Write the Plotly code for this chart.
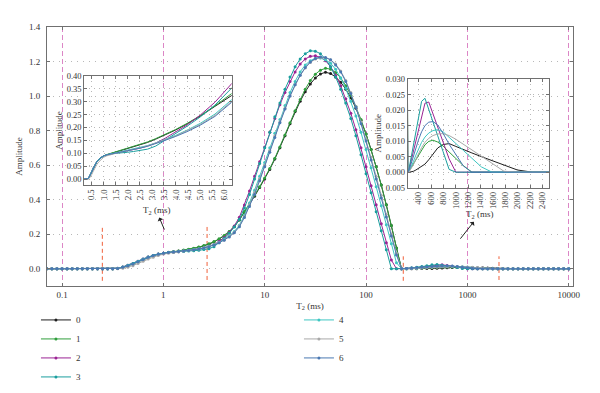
import math
import plotly.graph_objects as go

# ---------------- data ----------------
T2_ms = [0.07079, 0.07943, 0.08913, 0.1, 0.1122, 0.1259, 0.1413, 0.1585, 0.1778, 0.1995,
         0.2239, 0.2512, 0.2818, 0.3162, 0.3548, 0.3981, 0.4467, 0.5012, 0.5623, 0.631,
         0.7079, 0.7943, 0.8913, 1.0, 1.122, 1.259, 1.413, 1.585, 1.778, 1.995,
         2.239, 2.512, 2.818, 3.162, 3.548, 3.981, 4.467, 5.012, 5.623, 6.31,
         7.079, 7.943, 8.913, 10.0, 11.22, 12.59, 14.13, 15.85, 17.78, 19.95,
         22.39, 25.12, 28.18, 31.62, 35.48, 39.81, 44.67, 50.12, 56.23, 63.1,
         70.79, 79.43, 89.13, 100.0, 112.2, 125.9, 141.3, 158.5, 177.8, 199.5,
         223.9, 251.2, 281.8, 316.2, 354.8, 398.1, 446.7, 501.2, 562.3, 631.0,
         707.9, 794.3, 891.3, 1000.0, 1122, 1259, 1413, 1585, 1778, 1995,
         2239, 2512, 2818, 3162, 3548, 3981, 4467, 5012, 5623, 6310,
         7079, 7943, 8913, 10000]

amp_0 = [0, 0, 0, 0, 0, 0, 0, 0, 0, 0, 0, 0, 0, 0,
         0.002, 0.008, 0.017, 0.028, 0.041, 0.054, 0.066, 0.076, 0.084, 0.09,
         0.094, 0.098, 0.102, 0.106, 0.111, 0.117, 0.124, 0.132, 0.142, 0.155, 0.171, 0.19, 0.214, 0.244, 0.282, 0.327,
         0.37, 0.42, 0.47, 0.52, 0.575, 0.635, 0.70, 0.77, 0.84, 0.91, 0.97, 1.025, 1.07, 1.105, 1.128, 1.138,
         1.13, 1.11, 1.08, 1.04, 0.99, 0.93, 0.86, 0.78, 0.69, 0.59, 0.485, 0.37, 0.25, 0.12, 0,
         0, 0.0001, 0.0003, 0.0007, 0.0012, 0.0018, 0.0026, 0.004, 0.0058, 0.0078, 0.0089, 0.0092, 0.0083,
         0.0072, 0.0062, 0.005, 0.0038, 0.0023, 0.0007, 0, 0,
         0, 0, 0, 0, 0, 0, 0, 0, 0, 0, 0, 0]

amp_1 = [0, 0, 0, 0, 0, 0, 0, 0, 0, 0, 0, 0, 0, 0,
         0.002, 0.008, 0.017, 0.028, 0.041, 0.054, 0.066, 0.076, 0.084, 0.09,
         0.095, 0.099, 0.103, 0.108, 0.113, 0.119, 0.126, 0.134, 0.144, 0.157, 0.173, 0.192, 0.216, 0.246, 0.284, 0.331,
         0.375, 0.425, 0.475, 0.525, 0.58, 0.64, 0.705, 0.775, 0.845, 0.915, 0.98, 1.04, 1.09, 1.127, 1.15, 1.161,
         1.156, 1.137, 1.105, 1.06, 1.005, 0.94, 0.865, 0.78, 0.69, 0.59, 0.485, 0.37, 0.25, 0.12, 0,
         0.0006, 0.0016, 0.0028, 0.0042, 0.0056, 0.0073, 0.0088, 0.0099, 0.0103, 0.0097, 0.0084, 0.0065, 0.0044,
         0.0021, 0, 0, 0, 0, 0, 0, 0,
         0, 0, 0, 0, 0, 0, 0, 0, 0, 0, 0, 0]

amp_2 = [0, 0, 0, 0, 0, 0, 0, 0, 0, 0, 0, 0, 0, 0,
         0.003, 0.01, 0.02, 0.031, 0.044, 0.057, 0.068, 0.077, 0.085, 0.09,
         0.094, 0.097, 0.099, 0.102, 0.105, 0.109, 0.114, 0.12, 0.128, 0.14, 0.158, 0.181, 0.21, 0.248, 0.298, 0.369,
         0.45, 0.535, 0.62, 0.705, 0.79, 0.87, 0.95, 1.02, 1.085, 1.14, 1.185, 1.215, 1.23, 1.233, 1.225, 1.205,
         1.17, 1.12, 1.06, 0.985, 0.9, 0.805, 0.70, 0.59, 0.48, 0.37, 0.26, 0.15, 0.05, 0, 0,
         0.0015, 0.004, 0.0067, 0.0098, 0.0133, 0.0175, 0.0222, 0.0226, 0.0188, 0.0145, 0.0097, 0.0043, 0,
         0, 0, 0, 0, 0, 0, 0, 0,
         0, 0, 0, 0, 0, 0, 0, 0, 0, 0, 0, 0]

amp_3 = [0, 0, 0, 0, 0, 0, 0, 0, 0, 0, 0, 0, 0, 0,
         0.003, 0.01, 0.02, 0.031, 0.044, 0.057, 0.068, 0.077, 0.085, 0.09,
         0.094, 0.097, 0.099, 0.1, 0.102, 0.104, 0.107, 0.111, 0.116, 0.128, 0.15, 0.175, 0.205, 0.241, 0.287, 0.352,
         0.43, 0.52, 0.61, 0.70, 0.79, 0.88, 0.96, 1.04, 1.11, 1.17, 1.215, 1.245, 1.262, 1.26, 1.245, 1.215,
         1.17, 1.11, 1.04, 0.96, 0.87, 0.77, 0.66, 0.55, 0.44, 0.33, 0.22, 0.11, 0, 0, 0,
         0.0019, 0.005, 0.0085, 0.0124, 0.0167, 0.0228, 0.0238, 0.0204, 0.0163, 0.0117, 0.0066, 0.0009, 0,
         0, 0, 0, 0, 0, 0, 0, 0,
         0, 0, 0, 0, 0, 0, 0, 0, 0, 0, 0, 0]

amp_4 = [0, 0, 0, 0, 0, 0, 0, 0, 0, 0, 0, 0, 0, 0,
         0.002, 0.008, 0.017, 0.028, 0.041, 0.054, 0.066, 0.076, 0.084, 0.09,
         0.094, 0.097, 0.1, 0.103, 0.107, 0.111, 0.116, 0.122, 0.13, 0.14, 0.153, 0.169, 0.19, 0.216, 0.252, 0.31,
         0.38, 0.455, 0.535, 0.615, 0.70, 0.785, 0.865, 0.945, 1.02, 1.085, 1.14, 1.18, 1.205, 1.218, 1.22, 1.21,
         1.19, 1.155, 1.105, 1.045, 0.97, 0.885, 0.79, 0.69, 0.585, 0.475, 0.365, 0.255, 0.145, 0.035, 0,
         0.0005, 0.0018, 0.0035, 0.0055, 0.0076, 0.0096, 0.0113, 0.0126, 0.0134, 0.0137, 0.013, 0.0113, 0.0093,
         0.007, 0.0045, 0.0017, 0, 0, 0, 0, 0,
         0, 0, 0, 0, 0, 0, 0, 0, 0, 0, 0, 0]

amp_5 = [0, 0, 0, 0, 0, 0, 0, 0, 0, 0, 0, 0, 0, 0,
         0.0, 0.003, 0.009, 0.018, 0.03, 0.043, 0.056, 0.067, 0.077, 0.085,
         0.09, 0.094, 0.098, 0.102, 0.106, 0.11, 0.115, 0.121, 0.129, 0.139, 0.152, 0.167, 0.187, 0.212, 0.247, 0.303,
         0.37, 0.44, 0.52, 0.60, 0.685, 0.77, 0.85, 0.93, 1.0, 1.065, 1.12, 1.162, 1.195, 1.214, 1.222, 1.222,
         1.21, 1.185, 1.145, 1.09, 1.02, 0.94, 0.85, 0.75, 0.645, 0.535, 0.425, 0.315, 0.2, 0.09, 0,
         0.0003, 0.0012, 0.0025, 0.0042, 0.006, 0.0079, 0.0096, 0.0109, 0.0118, 0.0123, 0.0124, 0.0118, 0.0106,
         0.009, 0.0071, 0.005, 0.0027, 0.0003, 0, 0, 0,
         0, 0, 0, 0, 0, 0, 0, 0, 0, 0, 0, 0]

amp_6 = [0, 0, 0, 0, 0, 0, 0, 0, 0, 0, 0, 0, 0, 0,
         0.002, 0.008, 0.017, 0.028, 0.041, 0.054, 0.066, 0.076, 0.084, 0.09,
         0.094, 0.097, 0.1, 0.103, 0.106, 0.11, 0.114, 0.12, 0.127, 0.137, 0.15, 0.165, 0.184, 0.209, 0.243, 0.297,
         0.36, 0.43, 0.51, 0.59, 0.675, 0.76, 0.845, 0.925, 1.0, 1.065, 1.12, 1.165, 1.198, 1.218, 1.226, 1.224,
         1.21, 1.18, 1.14, 1.085, 1.015, 0.935, 0.84, 0.74, 0.63, 0.52, 0.41, 0.30, 0.19, 0.08, 0,
         0.001, 0.003, 0.0055, 0.008, 0.0105, 0.013, 0.015, 0.0161, 0.0163, 0.0152, 0.0125, 0.009, 0.0055,
         0.002, 0, 0, 0, 0, 0, 0, 0,
         0, 0, 0, 0, 0, 0, 0, 0, 0, 0, 0, 0]

series_names = ["0", "1", "2", "3", "4", "5", "6"]
series_values = [amp_0, amp_1, amp_2, amp_3, amp_4, amp_5, amp_6]

# vertical reference (cut-off) lines: T2 position, lower and upper amplitude
cutoff_T2 = [0.25, 2.7, 233, 2050]
cutoff_low = [-0.07, -0.065, -0.07, -0.065]
cutoff_high = [0.24, 0.245, 0.072, 0.072]

main_xticks = [0.1, 1, 10, 100, 1000, 10000]
main_xticktext = ["0.1", "1", "10", "100", "1000", "10000"]
main_yticks = [0.0, 0.2, 0.4, 0.6, 0.8, 1.0, 1.2, 1.4]
inset1_xticks = [0.5, 1.0, 1.5, 2.0, 2.5, 3.0, 3.5, 4.0, 4.5, 5.0, 5.5, 6.0]
inset1_yticks = [0.0, 0.05, 0.10, 0.15, 0.20, 0.25, 0.30, 0.35, 0.40]
inset2_xticks = [400, 600, 800, 1000, 1200, 1400, 1600, 1800, 2000, 2200, 2400]
inset2_yticks = [-0.005, 0.0, 0.005, 0.010, 0.015, 0.020, 0.025, 0.030]
inset2_yticktext = ["0.005", "0.000", "0.005", "0.010", "0.015", "0.020", "0.025", "0.030"]

# inset pointer labels: arrow tail (T2, amplitude) on the main axes; label offset in px
pointer_left = (1.023, 0.227)
pointer_left_offset = (-8, -19)
pointer_right = (853, 0.174)
pointer_right_offset = (19, -24)

for s in series_values:
    assert len(s) == len(T2_ms), len(s)

# ---------------- styling ----------------
colors = ["#1e1e1e", "#2f9e3c", "#9b2394", "#1a9e9e", "#3ec6c2", "#a8a8a8", "#4a78b2"]
serif = "Liberation Serif"
axis_col = "#707070"
grid_grey = "#b8b8b8"
grid_mag = "#dc86c6"

fig = go.Figure()

for i in range(len(cutoff_T2)):
    fig.add_trace(go.Scatter(x=[cutoff_T2[i], cutoff_T2[i]], y=[cutoff_low[i], cutoff_high[i]],
                             mode="lines", line=dict(color="#f0603a", width=1, dash="4px,3px"),
                             showlegend=False, hoverinfo="skip"))

for i, (nm, vals, c) in enumerate(zip(series_names, series_values, colors)):
    fig.add_trace(go.Scatter(x=T2_ms, y=vals, mode="lines+markers", name=nm,
                             line=dict(color=c, width=1), marker=dict(color=c, size=3),
                             legend="legend" if i < 4 else "legend2"))

for i, (nm, vals, c) in enumerate(zip(series_names, series_values, colors)):
    fig.add_trace(go.Scatter(x=T2_ms, y=vals, mode="lines", line=dict(color=c, width=1),
                             xaxis="x2", yaxis="y2", showlegend=False, hoverinfo="skip"))
    fig.add_trace(go.Scatter(x=T2_ms, y=vals, mode="lines", line=dict(color=c, width=1),
                             xaxis="x3", yaxis="y3", showlegend=False, hoverinfo="skip"))

common_axis = dict(showline=True, linecolor=axis_col, linewidth=1, mirror="ticks",
                   ticks="inside", ticklen=3, tickcolor=axis_col, zeroline=False,
                   automargin=False)

# the page body adds an 8 px offset; the figure is made a little taller than the
# visible window so that the legend fits without shrinking the plot area
fig.update_layout(
    width=592, height=410,
    margin=dict(l=39, r=27, t=19, b=132),
    paper_bgcolor="white", plot_bgcolor="rgba(0,0,0,0)",
    font=dict(family=serif, size=9, color="#333333"),
    xaxis=dict(type="log", range=[-1.148, 4.042], tickvals=main_xticks, ticktext=main_xticktext,
               showgrid=True, gridcolor=grid_mag, griddash="5px,3px", gridwidth=1,
               title=dict(text="T<sub>2</sub> (ms)", standoff=3, font=dict(size=9)),
               domain=[0, 1], **common_axis),
    yaxis=dict(range=[-0.1, 1.4], tickvals=main_yticks, tickformat=".1f",
               showgrid=True, gridcolor=grid_grey, griddash="1px,5px", gridwidth=1,
               ticklabelstandoff=4,
               title=dict(text="Amplitude", standoff=4, font=dict(size=9)),
               domain=[0, 1], **common_axis),
    xaxis2=dict(domain=[0.0709, 0.3511], anchor="y2", range=[0.19, 6.32], tickvals=inset1_xticks,
                tickformat=".1f", tickangle=-90, showgrid=True, gridcolor=grid_grey, griddash="1px,4px",
                tickfont=dict(size=8.5), **common_axis),
    yaxis2=dict(domain=[0.390, 0.811], anchor="x2", range=[-0.023, 0.40], tickvals=inset1_yticks,
                tickformat=".2f", showgrid=True, gridcolor=grid_grey, griddash="1px,4px",
                tickfont=dict(size=8.5),
                title=dict(text="Amplitude", standoff=2, font=dict(size=9)), **common_axis),
    xaxis3=dict(domain=[0.6857, 0.9549], anchor="y3", range=[222, 2510], tickvals=inset2_xticks,
                tickangle=-90, showgrid=True, gridcolor=grid_grey, griddash="1px,4px",
                tickfont=dict(size=8.5), **common_axis),
    yaxis3=dict(domain=[0.3795, 0.7992], anchor="x3", range=[-0.005, 0.030], tickvals=inset2_yticks,
                ticktext=inset2_yticktext, showgrid=True, gridcolor=grid_grey, griddash="1px,4px",
                tickfont=dict(size=8.5),
                title=dict(text="Amplitude", standoff=2, font=dict(size=9)), **common_axis),
    legend=dict(x=-0.021, y=-0.075, xanchor="left", yanchor="top", bgcolor="rgba(0,0,0,0)",
                font=dict(size=9), tracegroupgap=0),
    legend2=dict(x=0.479, y=-0.075, xanchor="left", yanchor="top", bgcolor="rgba(0,0,0,0)",
                 font=dict(size=9), tracegroupgap=0),
    showlegend=True,
)

ann = []
for (t2, amp), (ox, oy) in [(pointer_left, pointer_left_offset), (pointer_right, pointer_right_offset)]:
    ann.append(dict(x=math.log10(t2), y=amp, xref="x", yref="y",
                    text="T<sub>2</sub> (ms)", font=dict(size=9),
                    showarrow=True, ax=ox, ay=oy, arrowside="start", arrowhead=2,
                    arrowsize=1, arrowwidth=1, arrowcolor="#222", standoff=0, startstandoff=0))
fig.update_layout(annotations=ann)

fig.write_html("out.html")
